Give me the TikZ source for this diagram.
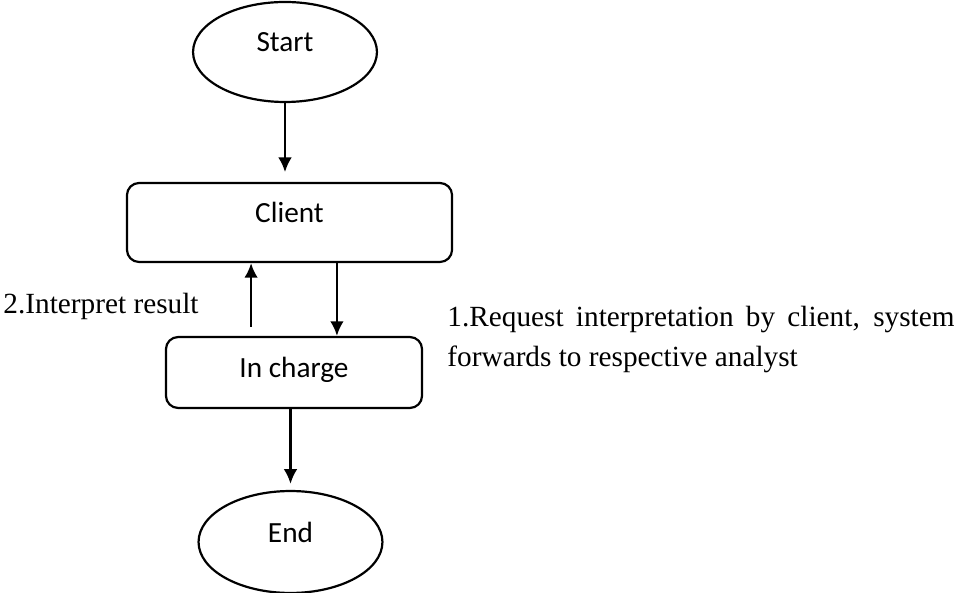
\documentclass[tikz,border=0pt]{standalone}
\usepackage{fontspec}
\setmainfont{Liberation Serif}
\newfontfamily\boxfont{Carlito}
\usetikzlibrary{shapes,arrows.meta}
\usetikzlibrary{calc,positioning}
\hyphenpenalty=10000
\exhyphenpenalty=10000

\begin{document}
\begin{tikzpicture}[x=0.41pt,y=-0.41pt]
    \tikzstyle{term} = [ellipse, draw, line width=0.9pt, minimum width=75.4pt, minimum height=41pt, inner sep=0pt, font=\boxfont\fontsize{12}{14}\selectfont, text height=4pt, text depth=4pt]
    \tikzstyle{proc} = [rectangle, rounded corners=5pt, draw, line width=0.9pt, inner sep=0pt, font=\boxfont\fontsize{12}{14}\selectfont, text height=4pt, text depth=4pt]
    \tikzstyle{flow} = [-{Latex[length=6pt,width=5.6pt]}, line width=1pt]
    \tikzstyle{note} = [inner sep=0pt, font=\fontsize{12}{16.4}\selectfont]

    \useasboundingbox (0,0) rectangle (954,593);

    % Flow chart .........................
	\node[term] (start) at (285,52) {Start};
	\node[proc, minimum width=133.3pt, minimum height=32.4pt] (client) at (289.5,222.5) {Client};
	\node[proc, minimum width=105pt, minimum height=29.1pt, text height=6pt, text depth=2.3pt] (incharge) at (294,372.5) {In charge};
	\node[term, minimum height=41.8pt] (end) at (290.5,542) {End};

    % Notes .........................
	\node[note, anchor=base west] (interp) at (3,314) {2.Interpret result};
	\node[note, anchor=north west, text width=207.9pt, align=justify] (request) at (447,306) {1.Request interpretation by client, system forwards to respective analyst};

	 \draw[flow, shorten >=4pt] (start) -- (start |- client.north);
	 \draw[flow, shorten <=3.7pt] ([xshift=-17.6pt]incharge.north) -- ([xshift=-17.6pt]incharge.north |- client.south);
	 \draw[flow] ([xshift=17.6pt]incharge.north |- client.south) -- ([xshift=17.6pt]incharge.north);
	 \draw[flow, shorten >=2.5pt] (incharge.south -| end) -- (end);

\end{tikzpicture}
\end{document}
